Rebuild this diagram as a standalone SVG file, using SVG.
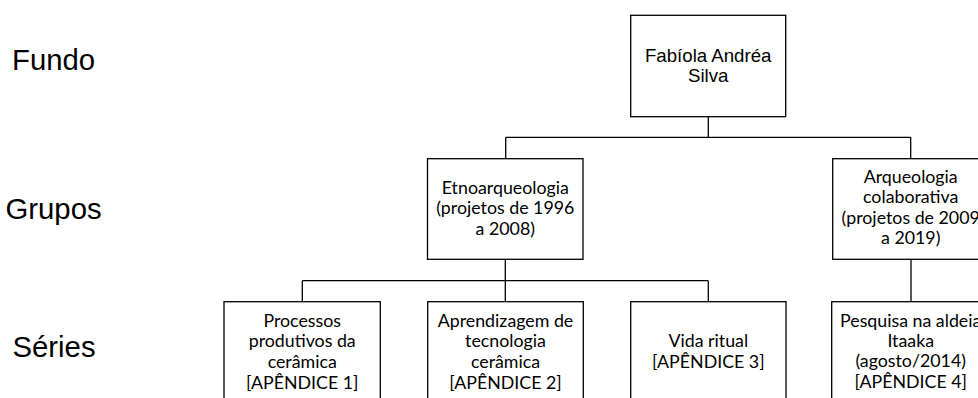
<svg xmlns="http://www.w3.org/2000/svg" width="978" height="398" viewBox="0 0 978 398">
<style>
.box{fill:#fff;stroke:#000;stroke-width:1.3}
.ln{fill:none;stroke:#000;stroke-width:1.3}
.lvl{font-family:"Liberation Sans",Arial,sans-serif;font-size:29.3px;fill:#000}
.ar{font-family:"Liberation Sans",Arial,sans-serif;font-size:18.67px;fill:#000;text-anchor:middle}
.cb{font-family:Lato,"Open Sans",sans-serif;font-size:17.8px;fill:#000;text-anchor:middle}
</style>
<rect width="978" height="398" fill="#fff"/>
<g id="levels">
<text class="lvl" x="12" y="69.5">Fundo</text>
<text class="lvl" x="5.5" y="219">Grupos</text>
<text class="lvl" x="12.5" y="357">Séries</text>
</g>
<g id="connectors">
<path class="ln" d="M708.3 116.7V137.3M505.7 137.3H910.7M505.7 137.3V158.7M910.7 137.3V158.7"/>
<path class="ln" d="M505.3 259.3V301.7M302.3 280.7H708.3M302.3 280.7V301.7M708.3 280.7V301.7"/>
<path class="ln" d="M911 259.3V301.7"/>
</g>
<g id="root">
<rect class="box" x="630.7" y="15.3" width="155" height="101.4"/>
<text class="ar" x="708.2" y="61.7">Fabíola Andréa</text>
<text class="ar" x="708.2" y="81.7">Silva</text>
</g>
<g id="etnoarqueologia">
<rect class="box" x="427.5" y="158.7" width="155.5" height="100.6"/>
<text class="cb" x="505.3" y="193.8">Etnoarqueologia</text>
<text class="cb" x="505.3" y="214.3">(projetos de 1996</text>
<text class="cb" x="505.3" y="234.8">a 2008)</text>
</g>
<g id="arqueologia-colaborativa">
<rect class="box" x="832.7" y="158.7" width="156" height="100.6"/>
<text class="cb" x="910.7" y="182.8">Arqueologia</text>
<text class="cb" x="910.7" y="203.3">colaborativa</text>
<text class="cb" x="910.7" y="223.8">(projetos de 2009</text>
<text class="cb" x="910.7" y="244.3">a 2019)</text>
</g>
<g id="processos">
<rect class="box" x="224" y="301.7" width="156.3" height="115"/>
<text class="cb" x="302.2" y="326.7">Processos</text>
<text class="cb" x="302.2" y="347.3">produtivos da</text>
<text class="cb" x="302.2" y="368">cerâmica</text>
<text class="cb" x="302.2" y="388.7">[APÊNDICE 1]</text>
</g>
<g id="aprendizagem">
<rect class="box" x="427.7" y="301.7" width="155.6" height="115"/>
<text class="cb" x="505.5" y="326.7">Aprendizagem de</text>
<text class="cb" x="505.5" y="347.3">tecnologia</text>
<text class="cb" x="505.5" y="368">cerâmica</text>
<text class="cb" x="505.5" y="388.7">[APÊNDICE 2]</text>
</g>
<g id="vida-ritual">
<rect class="box" x="630.7" y="301.7" width="155.3" height="115"/>
<text class="cb" x="708.3" y="347.3">Vida ritual</text>
<text class="cb" x="708.3" y="367.5">[APÊNDICE 3]</text>
</g>
<g id="pesquisa-itaaka">
<rect class="box" x="831.7" y="301.7" width="158" height="115"/>
<text class="cb" x="910.7" y="326.7">Pesquisa na aldeia</text>
<text class="cb" x="910.7" y="347">Itaaka</text>
<text class="cb" x="910.7" y="367.3">(agosto/2014)</text>
<text class="cb" x="910.7" y="387.7">[APÊNDICE 4]</text>
</g>
</svg>
